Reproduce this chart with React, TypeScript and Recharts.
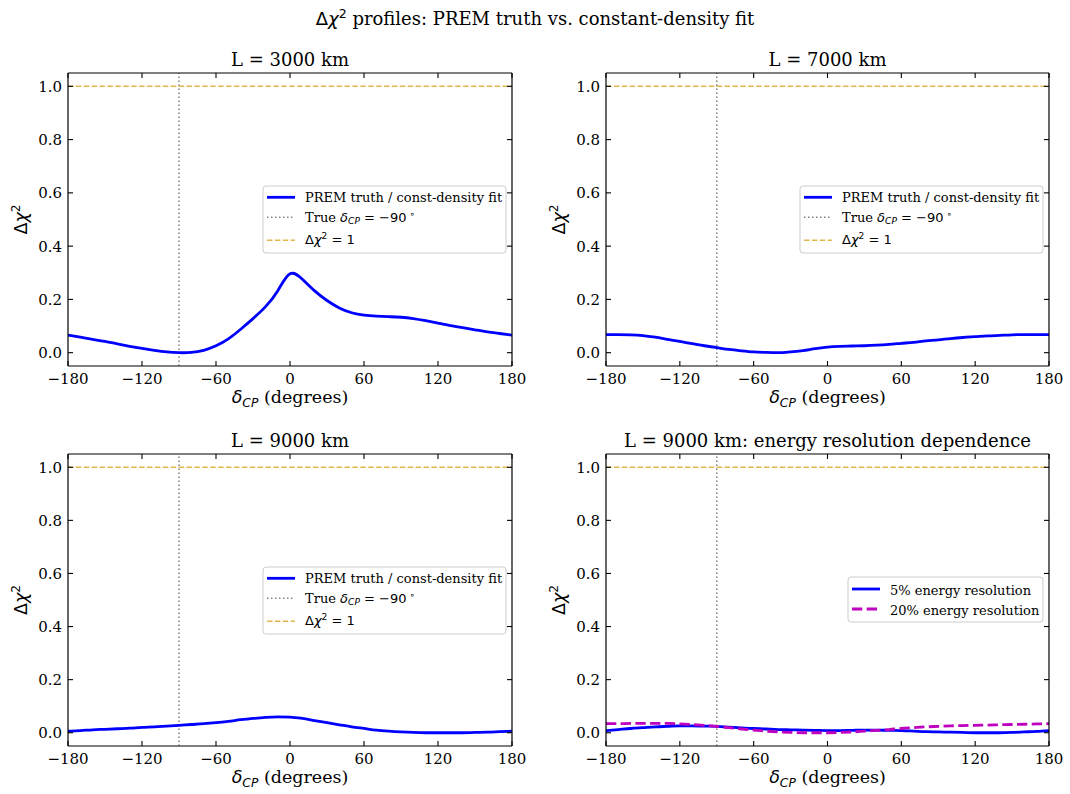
import React from 'react';
import { LineChart, Line, XAxis, YAxis, ReferenceLine } from 'recharts';

// ---------- data ----------
const deltaCP = [
  -180, -170, -160, -150, -140, -130, -120, -110, -100, -90, -80, -70, -60, -50, -40, -30, -20, -10,
  0, 10, 20, 30, 40, 50, 60, 70, 80, 90, 100, 110, 120, 130, 140, 150, 160, 170, 180,
];
const chiL3000 = [
  0.066, 0.058, 0.05, 0.042, 0.033, 0.024, 0.016, 0.009, 0.003, 0.0, 0.001, 0.009, 0.026, 0.052, 0.088, 0.128, 0.172, 0.232,
  0.296, 0.276, 0.232, 0.196, 0.168, 0.15, 0.141, 0.137, 0.135, 0.133, 0.128, 0.12, 0.111, 0.102, 0.094, 0.086, 0.078, 0.072, 0.066,
];
const chiL7000 = [
  0.068, 0.068, 0.067, 0.064, 0.058, 0.05, 0.042, 0.034, 0.026, 0.019, 0.012, 0.007, 0.003, 0.001, 0.0, 0.003, 0.008, 0.015,
  0.021, 0.024, 0.025, 0.026, 0.028, 0.031, 0.035, 0.039, 0.044, 0.048, 0.053, 0.057, 0.06, 0.063, 0.065, 0.067, 0.068, 0.068, 0.068,
];
const chiL9000 = [
  0.006, 0.008, 0.011, 0.013, 0.015, 0.017, 0.02, 0.022, 0.025, 0.028, 0.031, 0.034, 0.038, 0.043, 0.049, 0.054, 0.058, 0.06,
  0.059, 0.054, 0.046, 0.038, 0.03, 0.022, 0.016, 0.01, 0.006, 0.003, 0.001, 0.0, 0.0, 0.0, 0.0, 0.001, 0.002, 0.004, 0.006,
];
const chiRes5 = [
  0.008, 0.012, 0.016, 0.019, 0.022, 0.024, 0.026, 0.026, 0.025, 0.024, 0.021, 0.018, 0.016, 0.014, 0.012, 0.011, 0.01, 0.009,
  0.008, 0.008, 0.009, 0.01, 0.01, 0.009, 0.008, 0.006, 0.004, 0.003, 0.002, 0.001, 0.0, 0.0, 0.0, 0.001, 0.003, 0.005, 0.008,
];
const chiRes20 = [
  0.034, 0.034, 0.035, 0.035, 0.035, 0.035, 0.033, 0.031, 0.028, 0.024, 0.019, 0.014, 0.01, 0.006, 0.003, 0.001, 0.0, 0.0,
  0.0, 0.001, 0.003, 0.006, 0.009, 0.012, 0.016, 0.019, 0.022, 0.024, 0.026, 0.027, 0.028, 0.029, 0.03, 0.031, 0.032, 0.033, 0.034,
];
const xTicks = [-180, -120, -60, 0, 60, 120, 180];
const yTicks = [0, 0.2, 0.4, 0.6, 0.8, 1.0];
const panelTitles = ['L = 3000 km', 'L = 7000 km', 'L = 9000 km', 'L = 9000 km: energy resolution dependence'];
const suptitleText = ' profiles: PREM truth vs. constant-density fit';
const trueDeltaCP = -90;
const chiThreshold = 1;
const legendPrem = 'PREM truth / const-density fit';
const legendRes = ['5% energy resolution', '20% energy resolution'];

// ---------- style ----------
const SERIF = '"DejaVu Serif", serif';
const SANS = '"DejaVu Sans", sans-serif';
const BLUE = '#0000ff';
const MAGENTA = '#bf00bf';
const GRAY = '#808080';
const GOLD = '#DAA520';
const TICK = 15;
const LABEL = 17.5;
const TITLE = 18;
const LEG = 13;

const fmtX = (v: number) => (v < 0 ? '\u2212' + Math.abs(v) : String(v));
const fmtY = (v: number) => v.toFixed(1);

const BottomTick = (p: any) => (
  <g>
    <line x1={p.x} x2={p.x} y1={p.y} y2={p.y - 5} stroke="#000" strokeWidth={1.1} />
    <text x={p.x} y={p.y + 7} dy="0.71em" textAnchor="middle" fontFamily={SERIF} fontSize={TICK} fill="#000">
      {fmtX(p.payload.value)}
    </text>
  </g>
);
const TopTick = (p: any) => (
  <line x1={p.x} x2={p.x} y1={p.y} y2={p.y + 5} stroke="#000" strokeWidth={1.1} />
);
const LeftTick = (p: any) => (
  <g>
    <line x1={p.x} x2={p.x + 5} y1={p.y} y2={p.y} stroke="#000" strokeWidth={1.1} />
    <text x={p.x - 6} y={p.y} dy="0.36em" textAnchor="end" fontFamily={SERIF} fontSize={TICK} fill="#000">
      {fmtY(p.payload.value)}
    </text>
  </g>
);
const RightTick = (p: any) => (
  <line x1={p.x} x2={p.x - 5} y1={p.y} y2={p.y} stroke="#000" strokeWidth={1.1} />
);

type Series = { key: string; color: string; dash?: string; curve?: any };

function Panel({ px, py, w, h, data, series }: { px: number; py: number; w: number; h: number; data: any[]; series: Series[] }) {
  const axisLine = { stroke: '#000', strokeWidth: 1.2 };
  // plot area: left = 60 (y axis width), top = 9 + 1 (top axis height), right = 19 + 1, bottom = 30
  return (
    <div style={{ position: 'absolute', left: px - 60, top: py - 10 }}>
      <LineChart width={w + 80} height={h + 40} data={data} margin={{ top: 9, right: 19, bottom: 0, left: 0 }} style={{ overflow: 'visible' }}>
        <XAxis xAxisId="b" dataKey="d" type="number" domain={[-180, 180]} ticks={xTicks} interval={0} height={30}
          tickSize={0} tickMargin={0} tickLine={false} axisLine={axisLine} tick={BottomTick} allowDataOverflow />
        <XAxis xAxisId="t" orientation="top" dataKey="d" type="number" domain={[-180, 180]} ticks={xTicks} interval={0} height={1}
          tickSize={0} tickMargin={0} tickLine={false} axisLine={axisLine} tick={TopTick} allowDataOverflow />
        <YAxis yAxisId="l" type="number" domain={[-0.05, 1.05]} ticks={yTicks} interval={0} width={60}
          tickSize={0} tickMargin={0} tickLine={false} axisLine={axisLine} tick={LeftTick} allowDataOverflow />
        <YAxis yAxisId="r" orientation="right" type="number" domain={[-0.05, 1.05]} ticks={yTicks} interval={0} width={1}
          tickSize={0} tickMargin={0} tickLine={false} axisLine={axisLine} tick={RightTick} allowDataOverflow />
        <ReferenceLine xAxisId="b" yAxisId="l" x={trueDeltaCP} stroke={GRAY} strokeWidth={1.5} strokeDasharray="1.5 2.5" />
        <ReferenceLine xAxisId="b" yAxisId="l" y={chiThreshold} stroke={GOLD} strokeOpacity={0.8} strokeWidth={1.5} strokeDasharray="5.5 2.4" />
        {series.map((s) => (
          <Line key={s.key} xAxisId="b" yAxisId="l" dataKey={s.key} type={s.curve || 'monotone'} stroke={s.color} strokeWidth={2.8}
            strokeDasharray={s.dash} dot={false} activeDot={false} isAnimationActive={false} />
        ))}
      </LineChart>
    </div>
  );
}

function LegendPrem({ x, y }: { x: number; y: number }) {
  return (
    <g>
      <rect x={x} y={y} width={243} height={67} rx={3} fill="#fff" fillOpacity={0.8} stroke="#cccccc" strokeWidth={1} />
      <line x1={x + 4} x2={x + 32} y1={y + 11.3} y2={y + 11.3} stroke={BLUE} strokeWidth={2.8} />
      <text x={x + 42} y={y + 15.7} fontFamily={SERIF} fontSize={LEG} fill="#000">{legendPrem}</text>
      <line x1={x + 4} x2={x + 32} y1={y + 31.3} y2={y + 31.3} stroke={GRAY} strokeWidth={1.5} strokeDasharray="1.5 2.5" />
      <text x={x + 42} y={y + 35.7} fontSize={LEG} fill="#000" style={{ whiteSpace: 'pre' }}>
        <tspan fontFamily={SERIF}>True </tspan>
        <tspan fontFamily={SANS} fontStyle="italic">δ</tspan>
        <tspan fontFamily={SANS} fontStyle="italic" fontSize={LEG * 0.7} dy={2.6}>CP</tspan>
        <tspan fontFamily={SANS} dy={-2.6}>{' = \u221290'}</tspan>
        <tspan fontFamily={SANS} fontSize={LEG * 0.7} dy={-5}>{' \u2218'}</tspan>
      </text>
      <line x1={x + 4} x2={x + 32} y1={y + 54.3} y2={y + 54.3} stroke={GOLD} strokeOpacity={0.8} strokeWidth={1.5} strokeDasharray="5.5 2.4" />
      <text x={x + 42} y={y + 58} fontSize={LEG} fill="#000" fontFamily={SANS} style={{ whiteSpace: 'pre' }}>
        <tspan>Δ</tspan>
        <tspan fontStyle="italic">χ</tspan>
        <tspan fontSize={LEG * 0.7} dy={-5}>2</tspan>
        <tspan dy={5}>{' = 1'}</tspan>
      </text>
    </g>
  );
}

function LegendRes({ x, y }: { x: number; y: number }) {
  return (
    <g>
      <rect x={x} y={y} width={195} height={45} rx={3} fill="#fff" fillOpacity={0.8} stroke="#cccccc" strokeWidth={1} />
      <line x1={x + 4} x2={x + 32} y1={y + 12} y2={y + 12} stroke={BLUE} strokeWidth={2.8} />
      <text x={x + 42} y={y + 17.5} fontFamily={SERIF} fontSize={LEG} fill="#000">{legendRes[0]}</text>
      <line x1={x + 4} x2={x + 32} y1={y + 32} y2={y + 32} stroke={MAGENTA} strokeWidth={2.8} strokeDasharray="10.3 4.4" />
      <text x={x + 42} y={y + 37.5} fontFamily={SERIF} fontSize={LEG} fill="#000">{legendRes[1]}</text>
    </g>
  );
}

function XLabel({ cx, by }: { cx: number; by: number }) {
  return (
    <text x={cx} y={by} textAnchor="middle" fontFamily={SERIF} fontSize={LABEL} fill="#000" style={{ whiteSpace: 'pre' }}>
      <tspan fontFamily={SANS} fontStyle="italic">δ</tspan>
      <tspan fontFamily={SANS} fontStyle="italic" fontSize={LABEL * 0.7} dy={3.5}>CP</tspan>
      <tspan dy={-3.5}>{' (degrees)'}</tspan>
    </text>
  );
}

function YLabel({ bx, cy }: { bx: number; cy: number }) {
  return (
    <text transform={`translate(${bx},${cy}) rotate(-90)`} textAnchor="middle" fontFamily={SANS} fontSize={LABEL} fill="#000">
      <tspan>Δ</tspan>
      <tspan fontStyle="italic">χ</tspan>
      <tspan fontSize={LABEL * 0.7} dy={-7}>2</tspan>
    </text>
  );
}

export default function App() {
  const rowsA = deltaCP.map((d, i) => ({ d, prem: chiL3000[i] }));
  const rowsB = deltaCP.map((d, i) => ({ d, prem: chiL7000[i] }));
  const rowsC = deltaCP.map((d, i) => ({ d, prem: chiL9000[i] }));
  const rowsD = deltaCP.map((d, i) => ({ d, res5: chiRes5[i], res20: chiRes20[i] }));
  const premSeriesSharp: Series[] = [{ key: 'prem', color: BLUE, curve: 'natural' }];
  const premSeries: Series[] = [{ key: 'prem', color: BLUE }];
  const resSeries: Series[] = [
    { key: 'res5', color: BLUE },
    { key: 'res20', color: MAGENTA, dash: '10.3 4.4' },
  ];
  const L = [68, 606];
  const T = [73, 454];
  const W = [444, 443];
  const H = [293, 292];
  const dy = T[1] - T[0];
  return (
    <div style={{ position: 'absolute', left: 0, top: 0, width: 1070, height: 794, background: '#fff' }}>
      <Panel px={L[0]} py={T[0]} w={W[0]} h={H[0]} data={rowsA} series={premSeriesSharp} />
      <Panel px={L[1]} py={T[0]} w={W[1]} h={H[0]} data={rowsB} series={premSeries} />
      <Panel px={L[0]} py={T[1]} w={W[0]} h={H[1]} data={rowsC} series={premSeries} />
      <Panel px={L[1]} py={T[1]} w={W[1]} h={H[1]} data={rowsD} series={resSeries} />
      <svg width={1070} height={794} style={{ position: 'absolute', left: 0, top: 0, pointerEvents: 'none' }}>
        <text x={535} y={25} textAnchor="middle" fontSize={TITLE} fill="#000" style={{ whiteSpace: 'pre' }}>
          <tspan fontFamily={SANS}>Δ</tspan>
          <tspan fontFamily={SANS} fontStyle="italic">χ</tspan>
          <tspan fontFamily={SANS} fontSize={TITLE * 0.7} dy={-7}>2</tspan>
          <tspan fontFamily={SERIF} dy={7}>{suptitleText}</tspan>
        </text>
        <text x={290} y={66} textAnchor="middle" fontFamily={SERIF} fontSize={TITLE} fill="#000">{panelTitles[0]}</text>
        <text x={827.5} y={66} textAnchor="middle" fontFamily={SERIF} fontSize={TITLE} fill="#000">{panelTitles[1]}</text>
        <text x={290} y={66 + dy} textAnchor="middle" fontFamily={SERIF} fontSize={TITLE} fill="#000">{panelTitles[2]}</text>
        <text x={827.5} y={66 + dy} textAnchor="middle" fontFamily={SERIF} fontSize={TITLE} fill="#000">{panelTitles[3]}</text>
        <XLabel cx={290} by={403} />
        <XLabel cx={827.5} by={403} />
        <XLabel cx={290} by={403 + 380} />
        <XLabel cx={827.5} by={403 + 380} />
        <YLabel bx={27} cy={219.5} />
        <YLabel bx={565} cy={219.5} />
        <YLabel bx={27} cy={600} />
        <YLabel bx={565} cy={600} />
        <LegendPrem x={263} y={186} />
        <LegendPrem x={800} y={186} />
        <LegendPrem x={263} y={567} />
        <LegendRes x={848} y={577} />
      </svg>
    </div>
  );
}
